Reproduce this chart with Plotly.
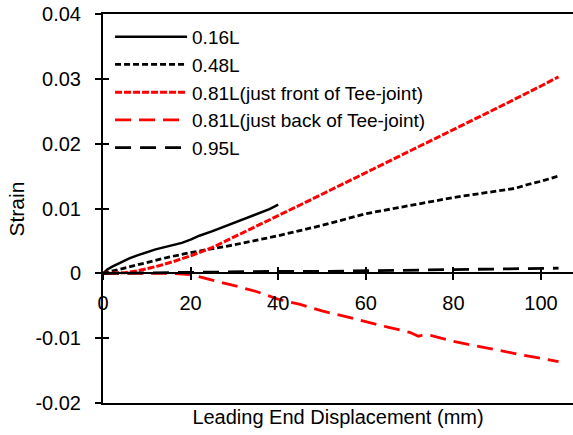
import plotly.graph_objects as go

# ---- data ----
x_016 = [0, 1, 2, 4, 6, 8, 10, 12, 15, 18, 20, 22, 25, 28, 30, 33, 36, 38, 40]
y_016 = [0, 0.0006, 0.0010, 0.0017, 0.0023, 0.0028, 0.0033, 0.0037, 0.0042, 0.0047,
         0.0052, 0.0058, 0.0065, 0.0073, 0.0078, 0.0086, 0.0094, 0.0099, 0.0106]

x_048 = [0, 3, 6, 10, 15, 20, 25, 30, 40, 50, 60, 70, 80, 90, 94, 97, 100, 104]
y_048 = [0, 0.0005, 0.0011, 0.0017, 0.0025, 0.0032, 0.0038, 0.0044, 0.0058, 0.0074,
         0.0092, 0.0105, 0.0117, 0.0127, 0.0131, 0.0137, 0.0142, 0.0150]

x_081f = [0, 3, 5, 8, 10, 13, 16, 20, 25, 30, 35, 40, 50, 60, 70, 80, 90, 100, 104]
y_081f = [0, 0, 0.0001, 0.0004, 0.0007, 0.0012, 0.0018, 0.0027, 0.0040, 0.0056, 0.0073,
          0.0089, 0.0122, 0.0155, 0.0189, 0.0222, 0.0255, 0.0289, 0.0303]

x_081b = [0, 5, 10, 15, 20, 25, 30, 35, 40, 45, 50, 55, 60, 65, 70, 72, 73, 75, 80,
          85, 90, 95, 100, 104]
y_081b = [0, 0, 0, 0, -0.0002, -0.0010, -0.0019, -0.0028, -0.0040, -0.0048, -0.0058,
          -0.0066, -0.0075, -0.0083, -0.0091, -0.0097, -0.0095, -0.0096, -0.0105,
          -0.0112, -0.0118, -0.0125, -0.0131, -0.0136]

x_095 = [0, 10, 20, 30, 40, 50, 60, 70, 80, 90, 100, 104]
y_095 = [0, 0.0001, 0.0002, 0.0002, 0.0003, 0.0003, 0.0004, 0.0005, 0.0005, 0.0006,
         0.0007, 0.0008]

x_ticks = [0, 20, 40, 60, 80, 100]
y_ticks = [0.04, 0.03, 0.02, 0.01, 0, -0.01, -0.02]
y_tick_text = ["0.04", "0.03", "0.02", "0.01", "0", "-0.01", "-0.02"]

X_RANGE = [0, 107.3]
Y_RANGE = [-0.02, 0.04]

FONT = "Liberation Sans, Arial, sans-serif"

fig = go.Figure()
series = [
    (x_016, y_016, "0.16L", "black", "solid", 2.5),
    (x_048, y_048, "0.48L", "black", "6px,3px", 2.8),
    (x_081f, y_081f, "0.81L(just front of Tee-joint)", "red", "7px,2px", 3),
    (x_081b, y_081b, "0.81L(just back of Tee-joint)", "red", "16px,8px", 2.8),
    (x_095, y_095, "0.95L", "black", "16px,9px", 2.8),
]
for xs, ys, name, color, dash, w in series:
    fig.add_trace(go.Scatter(x=xs, y=ys, name=name, mode="lines",
                             line=dict(color=color, width=w, dash=dash)))

zero_pos = (0 - Y_RANGE[0]) / (Y_RANGE[1] - Y_RANGE[0])

fig.update_layout(
    width=573, height=435,
    margin=dict(l=103, r=0, t=14, b=32),
    paper_bgcolor="white", plot_bgcolor="white",
    font=dict(family=FONT, size=19, color="black"),
    showlegend=True,
    legend=dict(x=0.015, y=0.99, xanchor="left", yanchor="top",
                bgcolor="rgba(0,0,0,0)", itemwidth=72,
                font=dict(family=FONT, size=19, color="black")),
    xaxis=dict(range=X_RANGE, domain=[0, 1], anchor="y", showline=True, mirror=True,
               linecolor="black", linewidth=2, showgrid=False, zeroline=False,
               ticks="", showticklabels=False,
               title=dict(text="Leading End Displacement (mm)", standoff=6,
                          font=dict(family=FONT, size=20, color="black"))),
    xaxis2=dict(range=X_RANGE, overlaying="x", anchor="free", position=zero_pos,
                showline=True, linecolor="black", linewidth=2, showgrid=False,
                zeroline=False, ticks="outside", ticklen=6, tickwidth=2,
                tickcolor="black", tickvals=x_ticks, ticklabelstandoff=6,
                tickfont=dict(family=FONT, size=20, color="black")),
    xaxis3=dict(range=X_RANGE, overlaying="x", anchor="free", position=zero_pos,
                showline=False, showgrid=False, zeroline=False, ticks="inside",
                ticklen=6, tickwidth=2, tickcolor="black", tickvals=x_ticks,
                showticklabels=False),
    yaxis=dict(range=Y_RANGE, anchor="x", showline=True, linecolor="black",
               linewidth=2, showgrid=False, zeroline=False, ticks="outside",
               ticklen=6, tickwidth=2, tickcolor="black", tickvals=y_ticks,
               ticktext=y_tick_text, ticklabelstandoff=10,
               tickfont=dict(family=FONT, size=20, color="black")),
    yaxis2=dict(range=Y_RANGE, overlaying="y", anchor="x", showline=False,
                showgrid=False, zeroline=False, ticks="inside", ticklen=6,
                tickwidth=2, tickcolor="black", tickvals=y_ticks,
                showticklabels=False),
    annotations=[dict(text="Strain", textangle=-90, xref="paper", yref="paper",
                      x=-0.183, y=0.5, xanchor="center", yanchor="middle",
                      showarrow=False,
                      font=dict(family=FONT, size=21, color="black"))],
)

# invisible helper traces so the overlay axes are drawn
fig.add_trace(go.Scatter(x=[None], y=[None], xaxis="x2", yaxis="y", showlegend=False,
                         hoverinfo="skip"))
fig.add_trace(go.Scatter(x=[None], y=[None], xaxis="x3", yaxis="y2", showlegend=False,
                         hoverinfo="skip"))

fig.write_html("out.html")
